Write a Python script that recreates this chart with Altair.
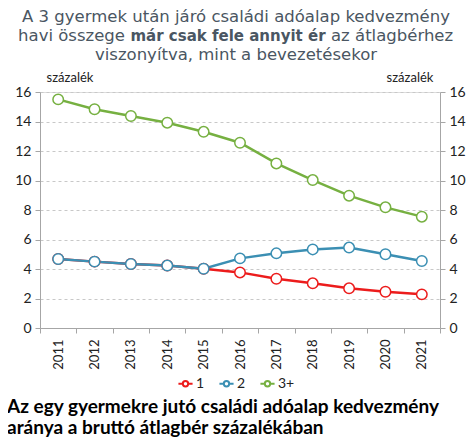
import altair as alt
import pandas as pd

years = [str(y) for y in range(2011, 2022)]
s1 = [4.68, 4.50, 4.34, 4.23, 4.02, 3.77, 3.34, 3.03, 2.69, 2.46, 2.28]
s2 = [4.68, 4.50, 4.34, 4.23, 4.02, 4.72, 5.06, 5.33, 5.45, 5.00, 4.54]
s3 = [15.5, 14.83, 14.37, 13.92, 13.3, 12.56, 11.16, 10.03, 8.97, 8.18, 7.55]
series_names = ["1", "2", "3+"]
colors = ["#ec1c1c", "#3b8fb3", "#76b041"]

rows = []
for name, vals in zip(series_names, [s1, s2, s3]):
    for y, v in zip(years, vals):
        rows.append({"year": y, "series": name, "value": v})
df = pd.DataFrame(rows)

W, H = 400, 236
FONT = "Lato"
TFONT = "DejaVu Sans"
TCOL = "#4a5662"

sym = ("M-1,0L-0.38,0M0.38,0L1,0"
       "M0.38,0A0.38,0.38 0 1,1 -0.38,0A0.38,0.38 0 1,1 0.38,0")

legend = alt.Legend(
    title=None, orient="none", direction="horizontal",
    legendX=137, legendY=283,
    symbolType=sym, symbolSize=200, symbolStrokeWidth=2,
    symbolFillColor="white", labelFont=FONT, labelFontSize=14,
    labelColor="#222", columnPadding=10, labelOffset=2,
)
color = alt.Color("series:N",
                  scale=alt.Scale(domain=series_names, range=colors),
                  legend=legend)

xscale = alt.Scale(paddingInner=0, paddingOuter=0)
yscale = alt.Scale(domain=[0, 16], nice=False)

xaxis = alt.Axis(labelAngle=270, labelFont=FONT, labelFontSize=13,
                 labelColor="#222", domainColor="#a6a6a6", tickColor="#a6a6a6",
                 tickBand="extent", tickSize=5, labelPadding=6, grid=False)
x = alt.X("year:O", title=None, scale=xscale, axis=xaxis)

y = alt.Y(
    "value:Q", title=None, scale=yscale,
    axis=alt.Axis(values=list(range(0, 17, 2)), labelFont=FONT, labelFontSize=14,
                  labelColor="#222", domainColor="#a6a6a6", tickColor="#a6a6a6",
                  tickSize=5, labelPadding=4, grid=True, gridDash=[3, 3],
                  gridColor="#c8c8c8"),
)

lines = alt.Chart(df).mark_line(strokeWidth=2.5).encode(x=x, y=y, color=color)

points = alt.Chart(df).mark_point(
    filled=False, fill="white", fillOpacity=1, opacity=1, size=110, strokeWidth=1.5,
).encode(x=x, y=alt.Y("value:Q", scale=yscale, axis=None), color=color)

right_axis = alt.Chart(df).mark_point(opacity=0).encode(
    x=x,
    y=alt.Y("value:Q", scale=yscale,
            axis=alt.Axis(orient="right", values=list(range(0, 17, 2)), title=None,
                          labelFont=FONT, labelFontSize=14, labelColor="#222",
                          domainColor="#a6a6a6", tickColor="#a6a6a6", tickSize=5,
                          labelPadding=4, grid=False)),
)


def txt(text, xpos, ypos, size, weight="normal", align="center", font=TFONT, col=TCOL):
    return alt.Chart(pd.DataFrame({"t": [text]})).mark_text(
        align=align, baseline="middle", fontSize=size, fontWeight=weight,
        font=font, color=col,
    ).encode(text="t:N", x=alt.value(xpos), y=alt.value(ypos))


TS = 16.5
title_parts = [
    txt("A 3 gyermek után járó családi adóalap kedvezmény", 196, -75, TS),
    txt("havi összege", 85, -56, TS, align="right"),
    txt("már csak fele annyit ér", 188, -56, 15, weight="bold"),
    txt("az átlagbérhez", 291, -56, TS, align="left"),
    txt("viszonyítva, mint a bevezetésekor", 196, -37, TS),
    txt("százalék", 30, -14, 13, font=FONT, col="#222"),
    txt("százalék", 370, -14, 13, font=FONT, col="#222"),
    txt("Az egy gyermekre jutó családi adóalap kedvezmény", -33, 315, 19,
        weight="bold", align="left", font=FONT, col="#000"),
    txt("aránya a bruttó átlagbér százalékában", -33, 336, 19,
        weight="bold", align="left", font=FONT, col="#000"),
]

chart = alt.layer(lines, points, right_axis, *title_parts).resolve_axis(
    y="independent"
).properties(
    width=W, height=H,
    autosize=alt.AutoSizeParams(type="none"),
    padding={"left": 32, "top": 84, "right": 26, "bottom": 112},
).configure_view(stroke=None).configure(background="white")

chart.save("out.html", embed_options={"renderer": "svg", "actions": False})
